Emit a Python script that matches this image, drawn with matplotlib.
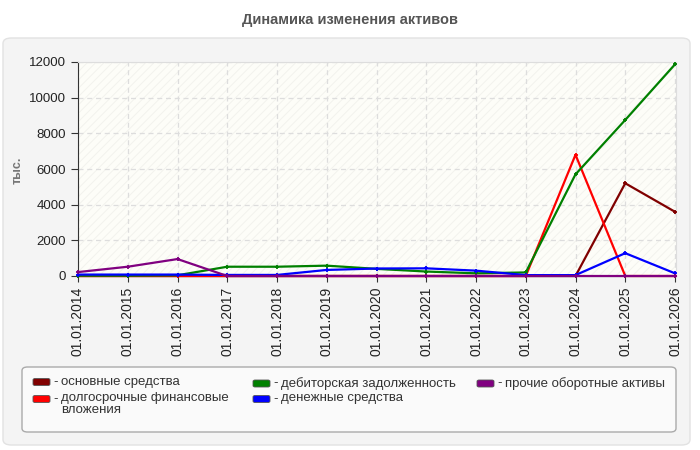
import matplotlib.pyplot as plt
from matplotlib.patches import FancyBboxPatch, Rectangle

plt.rcParams['font.family'] = ['Liberation Sans', 'DejaVu Sans']
plt.rcParams['hatch.linewidth'] = 0.6

dates = ["01.01.2014", "01.01.2015", "01.01.2016", "01.01.2017", "01.01.2018",
         "01.01.2019", "01.01.2020", "01.01.2021", "01.01.2022", "01.01.2023",
         "01.01.2024", "01.01.2025", "01.01.2026"]

fixed_assets = [0, 0, 0, 0, 0, 0, 0, 0, 0, 0, 0, 5200, 3600]
long_investments = [0, 0, 0, 0, 0, 0, 0, 0, 0, 0, 6800, 0, 0]
receivables = [20, 20, 40, 520, 520, 580, 400, 250, 150, 200, 5700, 8750, 11870]
cash = [80, 80, 80, 60, 60, 340, 420, 430, 300, 50, 50, 1280, 150]
other_current = [220, 520, 950, 0, 0, 0, 0, 0, 0, 0, 0, 0, 0]

series = [
    ("основные средства", fixed_assets, "#800000"),
    ("долгосрочные финансовые\nвложения", long_investments, "#ff0000"),
    ("дебиторская задолженность", receivables, "#008000"),
    ("денежные средства", cash, "#0000ff"),
    ("прочие оборотные активы", other_current, "#800080"),
]

fig = plt.figure(figsize=(7, 4.5), dpi=100)
fig.patch.set_facecolor("white")

W, H = 700.0, 450.0

def fx(px):
    return px / W

def fy(py):
    return 1 - py / H

# outer panel
panel = FancyBboxPatch((fx(3), fy(445)), fx(687), (445 - 38) / H,
                       boxstyle="round,pad=0,rounding_size=0.012",
                       transform=fig.transFigure, facecolor="#f4f4f4",
                       edgecolor="#e2e2e2", lw=1, zorder=-10)
fig.patches.append(panel)

fig.text(0.5, fy(20), "Динамика изменения активов", ha="center", va="center",
         fontsize=10.5, fontweight="bold", color="#555555")

ax = fig.add_axes([fx(78), fy(276), fx(598), (276 - 62) / H])
ax.set_zorder(5)
ax.set_facecolor("#fdfdf8")
ax.add_patch(Rectangle((0, 0), 1, 1, transform=ax.transAxes, facecolor="none",
                       edgecolor="#f1f1ec", hatch="////", lw=0, zorder=0))

x = list(range(len(dates)))
for label, vals, col in series:
    ax.plot(x, vals, color=col, lw=1.6, marker="+", ms=3.5, mew=1.3, zorder=3,
            clip_on=False)

ax.set_xlim(0, 12.02)
ax.set_ylim(0, 12000)
ax.set_yticks(range(0, 12001, 2000))
ax.set_xticks(x)
ax.set_xticklabels(dates, rotation=90, fontsize=10, color="#222222")
ax.tick_params(axis="y", labelsize=9.5, labelcolor="#222222", length=5, color="#333333")
ax.tick_params(axis="x", length=4, color="#333333")
ax.grid(True, color="#dddddd", ls=(0, (4, 3)), lw=0.9)
ax.set_axisbelow(True)
for s in ["left", "bottom"]:
    ax.spines[s].set_color("#333333")
for s in ["top", "right"]:
    ax.spines[s].set_color("#dddddd")

fig.text(fx(18), fy(170), "тыс.", rotation=90, ha="center", va="center",
         fontsize=9, fontweight="bold", color="#777777")

# legend box
lbox = FancyBboxPatch((fx(22), fy(432)), fx(654), (432 - 367) / H,
                      boxstyle="round,pad=0,rounding_size=0.008",
                      transform=fig.transFigure, facecolor="#fafafa",
                      edgecolor="#aaaaaa", lw=1, zorder=1)
fig.patches.append(lbox)

legend_pos = [(33, 382), (33, 399), (253, 383.5), (253, 399), (477, 383.5)]
for (label, vals, col), (lx, ly) in zip(series, legend_pos):
    sw = FancyBboxPatch((fx(lx), fy(ly + 3.5)), fx(17), 7 / H,
                        boxstyle="round,pad=0,rounding_size=0.003",
                        transform=fig.transFigure, facecolor=col,
                        edgecolor="#555555", lw=0.6, zorder=2)
    fig.patches.append(sw)
    fig.text(fx(lx + 20), fy(ly), "-", ha="left", va="center",
             fontsize=9.5, color="#333333")
    fig.text(fx(lx + 28), fy(ly - 6.5), label, ha="left", va="top",
             fontsize=9.5, color="#333333", linespacing=0.95)

fig.savefig("out.png", dpi=100, facecolor=fig.get_facecolor())
